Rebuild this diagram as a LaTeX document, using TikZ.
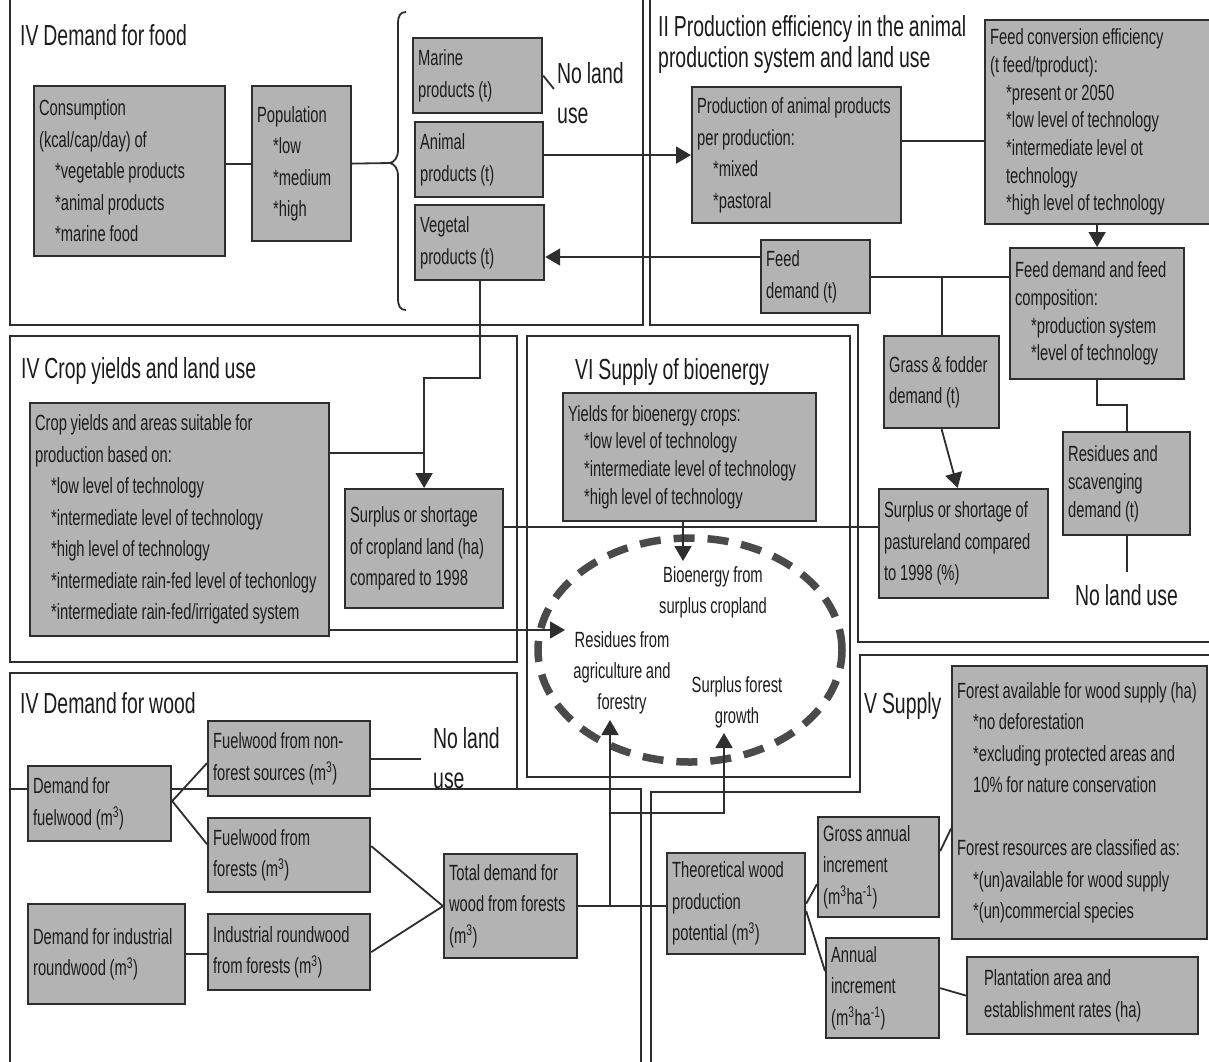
\documentclass[tikz,border=0pt]{standalone}
\usepackage{fontspec}
\setmainfont{Liberation Sans}[FakeStretch=0.67,WordSpace=0.9]
\usetikzlibrary{arrows.meta}
\definecolor{boxfill}{HTML}{B3B3B3}
\definecolor{edge}{HTML}{2E2E2E}
\definecolor{ink}{HTML}{1C1C1C}
\definecolor{dashc}{HTML}{4A4A4A}
\newcommand\myind{\hspace*{16pt}}
\tikzset{
  frame/.style={draw=edge, line width=1.8pt},
  conn/.style={draw=edge, line width=1.8pt},
  arr/.style={conn, -{Triangle[length=15pt,width=17pt]}},
  box/.style={draw=edge, fill=boxfill, line width=2.2pt, anchor=north west,
    inner xsep=5pt, inner ysep=0pt, align=flush left, text=ink,
    font=\fontsize{22}{31.5}\selectfont},
  tight/.style={font=\fontsize{22}{27.7}\selectfont},
  title/.style={anchor=base west, inner sep=0pt, text=ink, font=\fontsize{29}{31}\selectfont},
  ttltwo/.style={anchor=north west, inner sep=0pt, align=left, text=ink, font=\fontsize{29}{31}\selectfont},
  nolu/.style={anchor=north west, inner sep=0pt, align=left, text=ink, font=\fontsize{29}{40}\selectfont},
  elab/.style={inner sep=1pt, align=center, text=ink, font=\fontsize{22}{31}\selectfont},
  ell/.style={draw=dashc, line width=7.5pt, dash pattern=on 21pt off 13pt},
}
\begin{document}
\hyphenpenalty=10000 \exhyphenpenalty=10000 \relax
\begin{tikzpicture}[x=1pt,y=-1pt]
\fill[white] (0,0) rectangle (1209,1061);
\useasboundingbox (0,0) rectangle (1209,1061);

% section frames
\draw[frame] (10,0) -- (10,325) -- (643,325) -- (643,0);
\draw[frame] (650,0) -- (650,325) -- (858,325) -- (858,642) -- (1212,642);
\draw[frame] (10,336) rectangle (517,662);
\draw[frame] (527,336) rectangle (850,777);
\draw[frame] (10,1065) -- (10,673) -- (517,673) -- (517,789);
\draw[frame] (10,789) -- (641,789) -- (641,1065);
\draw[frame] (1212,655) -- (860,655) -- (860,792) -- (651,792) -- (651,1065);

% dashed ellipse
\draw[ell] (690,650) ellipse [x radius=152pt, y radius=112pt];

% titles
\node[title] (tfood) at (20,45) {IV Demand for food};
\node[ttltwo] (tprod) at (658,15) {II Production efficiency in the animal\\production system and land use};
\node[title] (tcrop) at (21,378) {IV Crop yields and land use};
\node[title] (tbio) at (575,379) {VI Supply of bioenergy};
\node[title] (twood) at (20,713) {IV Demand for wood};
\node[title] (tsup) at (864,713) {V Supply};

% IV demand for food
\node[box, minimum width=191pt, minimum height=170pt, text width=181pt] (cons) at (33,85)
  {Consumption\\(kcal/cap/day) of\\\myind*vegetable products\\\myind*animal products\\\myind*marine food};
\node[box, minimum width=99pt, minimum height=155pt, text width=89pt] (pop) at (251,85)
  {Population\\\myind*low\\\myind*medium\\\myind*high};
\node[box, minimum width=129pt, minimum height=75pt, text width=119pt] (marine) at (412,37)
  {Marine\\products (t)};
\node[box, minimum width=128pt, minimum height=75pt, text width=118pt] (animal) at (414,121)
  {Animal\\products (t)};
\node[box, minimum width=129pt, minimum height=75pt, text width=119pt] (veg) at (414,204)
  {Vegetal\\products (t)};
\node[nolu] (nl1) at (557,62) {No land\\use};

% II production efficiency
\node[box, minimum width=209pt, minimum height=136pt, text width=199pt] (prod) at (691,86)
  {Production of animal products\\per production:\\\myind*mixed\\\myind*pastoral};
\node[box, tight, minimum width=228pt, minimum height=204pt, text width=218pt] (feedconv) at (984,19)
  {Feed conversion efficiency\\(t feed/tproduct):\\\myind*present or 2050\\\myind*low level of technology\\\myind*intermediate level ot\\\myind technology\\\myind*high level of technology};
\node[box, minimum width=109pt, minimum height=73pt, text width=99pt] (feeddem) at (760,239)
  {Feed\\demand (t)};
\node[box, tight, minimum width=174pt, minimum height=131pt, text width=164pt] (feedcomp) at (1009,247)
  {Feed demand and feed\\composition:\\\myind*production system\\\myind*level of technology};
\node[box, minimum width=115pt, minimum height=92pt, text width=105pt] (grass) at (883,335)
  {Grass \& fodder\\demand (t)};
\node[box, minimum width=169pt, minimum height=109pt, text width=159pt] (surpast) at (878,488)
  {Surplus or shortage of\\pastureland compared\\to 1998 (\%)};
\node[box, tight, minimum width=127pt, minimum height=103pt, text width=117pt] (resscav) at (1062,431)
  {Residues and\\scavenging\\demand (t)};
\node[title] (nl3) at (1075,605) {No land use};

% IV crop yields
\node[box, minimum width=299pt, minimum height=233pt, text width=289pt] (crop) at (29,402)
  {Crop yields and areas suitable for\\production based on:\\\myind*low level of technology\\\myind*intermediate level of technology\\\myind*high level of technology\\\myind*intermediate rain-fed level of techonlogy\\\myind*intermediate rain-fed/irrigated system};
\node[box, minimum width=158pt, minimum height=119pt, text width=148pt] (surcrop) at (344,488)
  {Surplus or shortage\\of cropland land (ha)\\compared to 1998};

% VI bioenergy
\node[box, tight, minimum width=253pt, minimum height=128pt, text width=243pt] (bioyield) at (562,392)
  {Yields for bioenergy crops:\\\myind*low level of technology\\\myind*intermediate level of technology\\\myind*high level of technology};
\node[elab] (bioen) at (713,592) {Bioenergy from\\surplus cropland};
\node[elab] (resid) at (622,673) {Residues from\\agriculture and\\forestry};
\node[elab] (surfor) at (737,702) {Surplus forest\\growth};

% IV demand for wood
\node[box, minimum width=143pt, minimum height=75pt, text width=133pt] (fuel) at (27,765)
  {Demand for\\fuelwood (m\textsuperscript{3})};
\node[box, minimum width=162pt, minimum height=75pt, text width=152pt] (nonf) at (207,720)
  {Fuelwood from non-\\forest sources (m\textsuperscript{3})};
\node[box, minimum width=162pt, minimum height=74pt, text width=152pt] (forf) at (207,817)
  {Fuelwood from\\forests (m\textsuperscript{3})};
\node[box, minimum width=157pt, minimum height=100pt, text width=147pt] (inddem) at (27,903)
  {Demand for industrial\\roundwood (m\textsuperscript{3})};
\node[box, minimum width=162pt, minimum height=76pt, text width=152pt] (indf) at (207,913)
  {Industrial roundwood\\from forests (m\textsuperscript{3})};
\node[box, minimum width=133pt, minimum height=104pt, text width=123pt] (total) at (443,853)
  {Total demand for\\wood from forests\\(m\textsuperscript{3})};
\node[nolu] (nl2) at (433,727) {No land\\use};

% V supply
\node[box, minimum width=138pt, minimum height=101pt, text width=128pt] (theo) at (666,852)
  {Theoretical wood\\production\\potential (m\textsuperscript{3})};
\node[box, minimum width=121pt, minimum height=100pt, text width=111pt] (gross) at (817,816)
  {Gross annual\\increment\\(m\textsuperscript{3}ha\textsuperscript{-1})};
\node[box, minimum width=113pt, minimum height=100pt, text width=103pt] (annual) at (825,937)
  {Annual\\increment\\(m\textsuperscript{3}ha\textsuperscript{-1})};
\node[box, minimum width=255pt, minimum height=273pt, text width=245pt] (forav) at (951,665)
  {Forest available for wood supply (ha)\\\myind*no deforestation\\\myind*excluding protected areas and\\\myind 10\% for nature conservation\\[31.5pt]Forest resources are classified as:\\\myind*(un)available for wood supply\\\myind*(un)commercial species};
\node[box, minimum width=231pt, minimum height=77pt, text width=221pt] (plant) at (966,956)
  {\hspace*{12pt}Plantation area and\\\hspace*{12pt}establishment rates (ha)};

% brace
\coordinate (btip) at (390,163);
\draw[conn] (406,12) .. controls (400,12) and (398,16) .. (398,24) -- (398,150)
  .. controls (398,158) and (394,162) .. (btip)
  .. controls (394,164) and (398,168) .. (398,176) -- (398,298)
  .. controls (398,306) and (400,310) .. (406,310);

% helper coordinates
\coordinate (residin) at (565,630);
\coordinate (bioin) at (683,561);
\coordinate (residup) at (610,720);
\coordinate (forup) at (724,733);

% connectors: food
\draw[conn] (pop.west) -- (pop.west -| cons.east);
\draw[conn] (pop.east) -- (btip);
\draw[conn, shorten >=5pt] (marine.east) -- (nl1.west);
\draw[arr] (animal.east |- prod.west) -- (prod.west);
\draw[arr] (feeddem.west |- 0,257) -- (veg.east |- 0,257);
\draw[arr] (veg.south) -- (veg.south |- 0,378) -| (surcrop.north);

% connectors: production
\draw[conn] (prod.east |- 0,141) -- (feedconv.west |- 0,141);
\draw[arr] (feedconv.south -| feedcomp.north) -- (feedcomp.north);
\draw[conn] (feeddem.east) -- (feeddem.east -| feedcomp.west);
\draw[conn] (grass.north |- feeddem.east) -- (grass.north);
\draw[arr] (grass.south) -- ([xshift=-6pt]surpast.north);
\draw[conn] (feedcomp.south) -- (feedcomp.south |- 0,405) -| (resscav.north);
\draw[conn] (resscav.south) -- (resscav.south |- 0,572);

% connectors: crops and bioenergy
\draw[conn] (crop.east |- 0,453) -- (surcrop.north |- 0,453);
\draw[conn] (surcrop.east |- 0,527) -- (surpast.west |- 0,527);
\draw[arr] (crop.east |- residin) -- (residin);
\draw[arr] (bioyield.south -| bioin) -- (bioin);

% connectors: wood
\draw[conn] ([yshift=2.5pt]fuel.east) -- ([yshift=-4.5pt]nonf.west);
\draw[conn] ([yshift=2.5pt]fuel.east) -- ([yshift=11pt]forf.west);
\draw[conn, shorten >=12pt] (nonf.east) -- (nonf.east -| nl2.west);
\draw[conn] ([yshift=9pt]forf.east) -- (total.west);
\draw[conn] (indf.east) -- (total.west);
\draw[conn] (inddem.east) -- (inddem.east -| indf.west);
\draw[conn] (total.east) -- (total.east -| theo.west);
\draw[arr] (total.east -| residup) -- (residup);
\draw[arr] (residup |- 0,813) -| (forup);

% connectors: supply
\draw[conn] (theo.east) -- ([yshift=-17pt]gross.west);
\draw[conn] ([yshift=-7.5pt]theo.east) -- ([yshift=17pt]annual.west);
\draw[conn] ([yshift=16pt]gross.east) -- ([yshift=-26pt]forav.west);
\draw[conn] (annual.east) -- (plant.west);
\end{tikzpicture}
\end{document}
